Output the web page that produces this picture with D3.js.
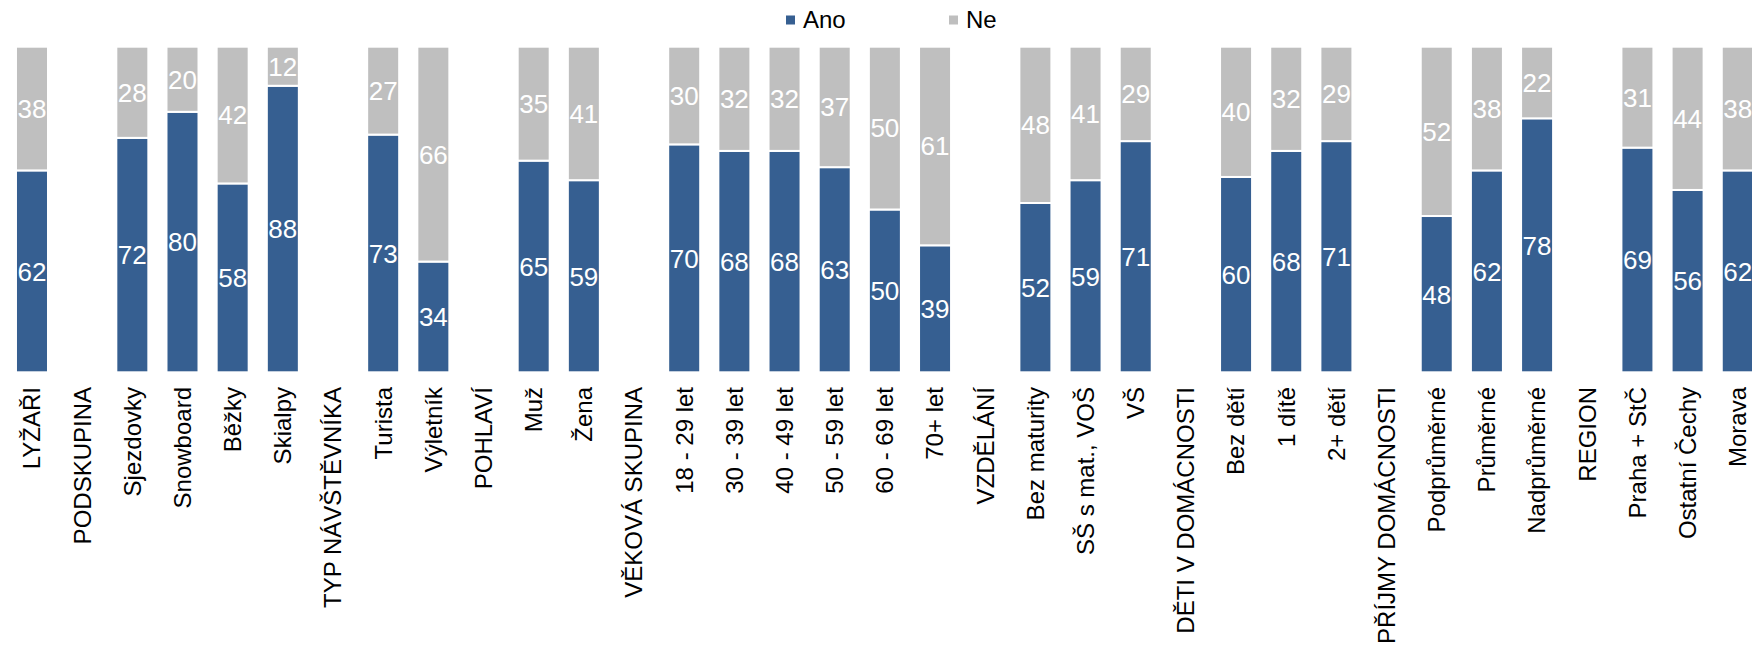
<!DOCTYPE html>
<html>
<head>
<meta charset="utf-8">
<script src="https://cdn.jsdelivr.net/npm/d3@7"></script>
<style>
  html, body { margin: 0; padding: 0; background: #fff; overflow: hidden; }
  svg { display: block; font-family: "Liberation Sans", Arial, sans-serif; }
</style>
</head>
<body>
<svg id="chart" width="1752" height="646"></svg>
<script>
// ---- Data ----
const categories = [
  "LYŽAŘI", "PODSKUPINA", "Sjezdovky", "Snowboard", "Běžky", "Skialpy",
  "TYP NÁVŠTĚVNÍKA", "Turista", "Výletník",
  "POHLAVÍ", "Muž", "Žena",
  "VĚKOVÁ SKUPINA", "18 - 29 let", "30 - 39 let", "40 - 49 let", "50 - 59 let", "60 - 69 let", "70+ let",
  "VZDĚLÁNÍ", "Bez maturity", "SŠ s mat., VOŠ", "VŠ",
  "DĚTI V DOMÁCNOSTI", "Bez dětí", "1 dítě", "2+ dětí",
  "PŘÍJMY DOMÁCNOSTI", "Podprůměrné", "Průměrné", "Nadprůměrné",
  "REGION", "Praha + StČ", "Ostatní Čechy", "Morava"
];
const ano = [
  62, null, 72, 80, 58, 88,
  null, 73, 34,
  null, 65, 59,
  null, 70, 68, 68, 63, 50, 39,
  null, 52, 59, 71,
  null, 60, 68, 71,
  null, 48, 62, 78,
  null, 69, 56, 62
];
const ne = [
  38, null, 28, 20, 42, 12,
  null, 27, 66,
  null, 35, 41,
  null, 30, 32, 32, 37, 50, 61,
  null, 48, 41, 29,
  null, 40, 32, 29,
  null, 52, 38, 22,
  null, 31, 44, 38
];
const seriesNames = ["Ano", "Ne"];
const seriesColors = ["#365F91", "#BFBFBF"];

// ---- Layout ----
const svg = d3.select("#chart");
const step = 50.17;
const x0 = 6.9;
const x = d3.scaleBand()
  .domain(categories)
  .range([x0, x0 + step * categories.length])
  .paddingInner(0.362)
  .paddingOuter(0.181);
const y = d3.scaleLinear().domain([0, 100]).range([372.3, 46.7]);

const rows = categories.map((c, i) => ({ cat: c, Ano: ano[i], Ne: ne[i] }))
  .filter(d => d.Ano != null);
const stack = d3.stack().keys(seriesNames)(rows);

const g = svg.append("g");
stack.forEach((layer, li) => {
  const lg = g.append("g");
  lg.selectAll("rect").data(layer).join("rect")
    .attr("x", d => x(d.data.cat))
    .attr("width", x.bandwidth())
    .attr("y", d => y(d[1]))
    .attr("height", d => y(d[0]) - y(d[1]))
    .attr("fill", seriesColors[li])
    .attr("stroke", "#ffffff")
    .attr("stroke-width", 2);
  lg.selectAll("text").data(layer).join("text")
    .attr("x", d => x(d.data.cat) + x.bandwidth() / 2)
    .attr("y", d => (y(d[0]) + y(d[1])) / 2)
    .attr("dy", "0.36em")
    .attr("text-anchor", "middle")
    .attr("fill", "#ffffff")
    .attr("font-size", 26)
    .text(d => d.data[seriesNames[li]]);
});

// ---- X axis (rotated labels) ----
const axis = d3.axisBottom(x).tickSize(0).tickPadding(0);
const ax = svg.append("g").attr("transform", "translate(0,387)").call(axis);
ax.select(".domain").remove();
ax.selectAll("text")
  .attr("font-family", "\"Liberation Sans\", Arial, sans-serif")
  .attr("font-size", 24)
  .attr("fill", "#000")
  .attr("text-anchor", "end")
  .attr("transform", "rotate(-90)")
  .attr("x", 0)
  .attr("y", 0)
  .attr("dy", "0.35em");

// ---- Legend ----
const legendX = [786, 949];
const legend = svg.append("g");
seriesNames.forEach((name, i) => {
  legend.append("rect")
    .attr("x", legendX[i]).attr("y", 15.5)
    .attr("width", 9).attr("height", 9)
    .attr("fill", seriesColors[i]);
  legend.append("text")
    .attr("x", legendX[i] + 17).attr("y", 28)
    .attr("font-size", 24)
    .attr("fill", "#000")
    .text(name);
});
</script>
</body>
</html>
